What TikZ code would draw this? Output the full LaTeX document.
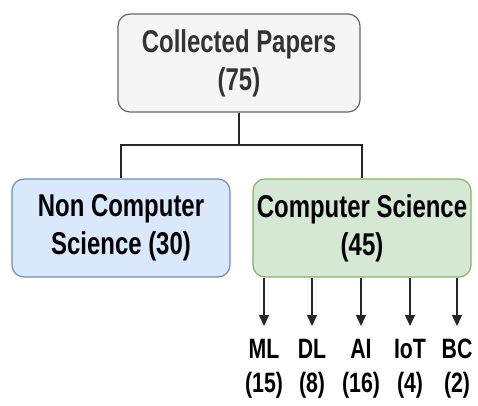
\documentclass[tikz,border=0pt]{standalone}
\usepackage{fontspec}
\setmainfont{Liberation Sans}[FakeStretch=0.76]
\usetikzlibrary{arrows.meta}
\definecolor{grayfill}{HTML}{F5F5F5}
\definecolor{graystroke}{HTML}{666666}
\definecolor{graytext}{HTML}{333333}
\definecolor{bluefill}{HTML}{DAE8FC}
\definecolor{bluestroke}{HTML}{6C8EBF}
\definecolor{greenfill}{HTML}{D5E8D4}
\definecolor{greenstroke}{HTML}{82B366}
\tikzset{
  box/.style={rectangle, rounded corners=12pt, line width=1.2pt, minimum width=218pt, minimum height=98pt, align=center, inner sep=0pt, font=\fontsize{31.5}{38}\selectfont\bfseries},
  conn/.style={line width=1.3pt, black!85},
  arr/.style={conn, -{Triangle[length=11pt,width=10pt]}, shorten >=13pt},
  lbl/.style={align=center, inner sep=0pt, anchor=north, font=\fontsize{28}{34}\selectfont\bfseries}
}
\begin{document}
\begin{tikzpicture}[x=1pt,y=-1pt]
\useasboundingbox (0,0) rectangle (478,405);
\node[box, fill=grayfill, draw=graystroke, text=graytext, minimum width=242pt] (top) at (239,63) {Collected Papers\\(75)};
\node[box, fill=bluefill, draw=bluestroke] (ncs) at (121,228) {Non Computer\\Science (30)};
\node[box, fill=greenfill, draw=greenstroke] (cs) at (362,228) {Computer Science\\(45)};
\coordinate (j) at (239,145);
\draw[conn] (top.south) -- (j);
\draw[conn] (j) -| (ncs.north);
\draw[conn] (j) -| (cs.north);
\node[lbl] (ml) at (264,339) {ML\\(15)};
\node[lbl] (dl) at (312,339) {DL\\(8)};
\node[lbl] (ai) at (361,339) {AI\\(16)};
\node[lbl] (iot) at (410,339) {IoT\\(4)};
\node[lbl] (bc) at (457,339) {BC\\(2)};
\foreach \n in {ml,dl,ai,iot,bc}{
  \draw[arr] (cs.south -| \n.north) -- (\n.north);
}
\end{tikzpicture}
\end{document}
